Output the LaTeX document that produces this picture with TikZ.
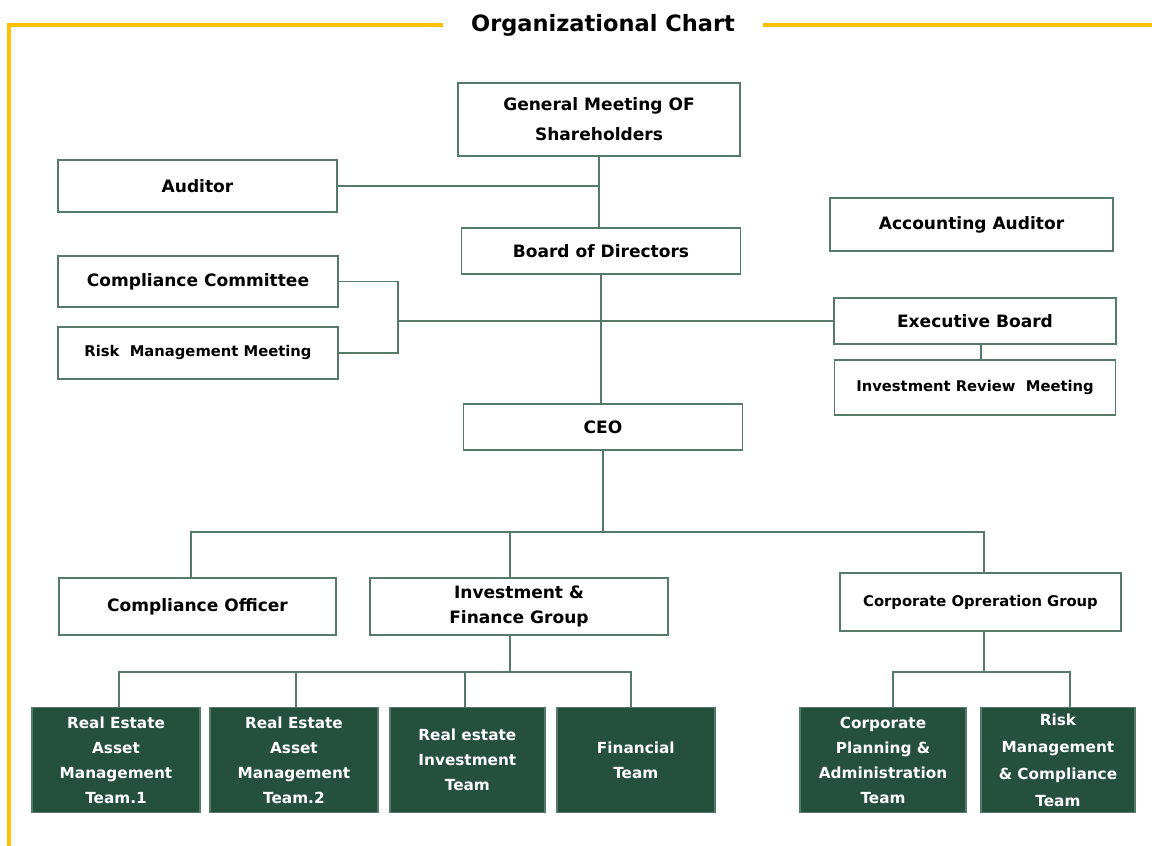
\documentclass[tikz,border=0pt]{standalone}
\usepackage{fontspec}
\setmainfont{DejaVu Sans}
\usepackage{tikz}
\usetikzlibrary{positioning, calc}
\usepackage{xcolor}
\definecolor{Marigold}{HTML}{FFC000}
\definecolor{Sage}{HTML}{567A69}
\definecolor{Forest}{HTML}{25503D}

\begin{document}
\begin{tikzpicture}[
    box/.style={draw=Sage, line width=1.1pt, fill=white, align=center, inner sep=1pt, font=\bfseries\fontsize{9.7}{14}\selectfont},
    smalltext/.style={font=\bfseries\fontsize{8.4}{12}\selectfont},
    team/.style={box, fill=Forest, text=white, minimum height=2.1cm, font=\bfseries\fontsize{8.7}{14.2}\selectfont},
    link/.style={draw=Sage, line width=1.1pt},
    frame/.style={draw=Marigold, line width=1.8pt}
]
\useasboundingbox (0,0) rectangle (23.04,-16.92);

% Title and frame
\node[font=\bfseries\fontsize{12.8}{15}\selectfont, inner xsep=0.55cm, inner ysep=0pt] (title) at (12.06,-0.5) {Organizational Chart};
\coordinate (corner) at (0.18,-0.5);
\coordinate (frameend) at (23.04,-0.5);
\coordinate (framefoot) at (0.18,-16.92);
\draw[frame] (title.west) -- (corner) -- (framefoot);
\draw[frame] (title.east) -- (frameend);

% Governance
\node[box, minimum width=5.64cm, minimum height=1.46cm] (gm) at (11.98,-2.39) {General Meeting OF\\[3pt] Shareholders};
\node[box, minimum width=5.58cm, minimum height=1.04cm] (auditor) at (3.95,-3.72) {Auditor};
\node[box, minimum width=5.58cm, minimum height=0.92cm, below=1.40cm of gm, xshift=0.04cm] (board) {Board of Directors};
\node[box, minimum width=5.66cm, minimum height=1.06cm] (accaudit) at (19.43,-4.49) {Accounting Auditor};

% Committees
\node[box, minimum width=5.60cm, minimum height=1.02cm] (compcomm) at (3.96,-5.63) {Compliance Committee};
\node[box, smalltext, minimum width=5.60cm, minimum height=1.04cm, below=0.36cm of compcomm] (riskmeet) {Risk\ \ Management Meeting};
\node[box, minimum width=5.64cm, minimum height=0.92cm] (exec) at (19.50,-6.42) {Executive Board};
\node[box, smalltext, minimum width=5.62cm, minimum height=1.10cm, below=0.28cm of exec] (review) {Investment Review\ \ Meeting};

% CEO
\node[box, minimum width=5.58cm, minimum height=0.92cm, below=2.56cm of board, xshift=0.04cm] (ceo) {CEO};

% Groups
\node[box, minimum width=5.54cm, minimum height=1.14cm] (officer) at (3.95,-12.13) {Compliance Officer};
\node[box, minimum width=5.96cm, minimum height=1.14cm] (ifg) at (10.38,-12.13) {Investment \&\\ Finance Group};
\node[box, smalltext, minimum width=5.62cm, minimum height=1.16cm] (cog) at (19.61,-12.04) {Corporate Opreration Group};

% Teams
\node[team, minimum width=3.36cm] (ream1) at (2.32,-15.2) {Real Estate\\ Asset\\ Management\\ Team.1};
\node[team, minimum width=3.36cm, right=0.16cm of ream1] (ream2) {Real Estate\\ Asset\\ Management\\ Team.2};
\node[team, minimum width=3.10cm, right=0.2cm of ream2] (reinv) {Real estate\\ Investment\\ Team};
\node[team, minimum width=3.16cm, right=0.2cm of reinv] (fin) {Financial\\ Team};
\node[team, minimum width=3.32cm] (cpa) at (17.66,-15.2) {Corporate\\ Planning \&\\ Administration\\ Team};
\node[team, minimum width=3.08cm, right=0.26cm of cpa, font=\bfseries\fontsize{8.7}{15.4}\selectfont] (rmc) {Risk\\ Management\\ \& Compliance\\ Team};

% Bus points
\coordinate (bracket) at (7.96,-6.42);
\coordinate (ceobus) at (12.0,-10.64);
\coordinate (ifgbus) at (10.2,-13.44);
\coordinate (cogbus) at (19.68,-13.44);

% Connectors
\draw[link] (gm.south) -- (gm.south |- board.north);
\draw[link] (auditor.east) -- (auditor.east -| gm.south);
\draw[link] (board.south) -- (board.south |- ceo.north);
\draw[link] (compcomm.east) -| (bracket) |- (riskmeet.east);
\draw[link] (bracket) -- (exec.west);
\draw[link] ([xshift=0.12cm]exec.south) -- ([xshift=0.12cm]exec.south |- review.north);
\draw[link] (ceo.south) -- (ceo.south |- ceobus);
\draw[link] ([xshift=-0.13cm]officer.north) |- (ceobus) -| ([xshift=0.07cm]cog.north);
\draw[link] ([xshift=-0.18cm]ifg.north) -- ([xshift=-0.18cm]ifg.north |- ceobus);
\draw[link] (ifgbus |- ifg.south) -- (ifgbus);
\draw[link] ([xshift=0.06cm]ream1.north) |- (ifgbus) -| ([xshift=-0.1cm]fin.north);
\draw[link] ([xshift=0.04cm]ream2.north) -- ([xshift=0.04cm]ream2.north |- ifgbus);
\draw[link] ([xshift=-0.05cm]reinv.north) -- ([xshift=-0.05cm]reinv.north |- ifgbus);
\draw[link] (cogbus |- cog.south) -- (cogbus);
\draw[link] ([xshift=0.2cm]cpa.north) |- (cogbus) -| ([xshift=0.24cm]rmc.north);

\end{tikzpicture}
\end{document}
